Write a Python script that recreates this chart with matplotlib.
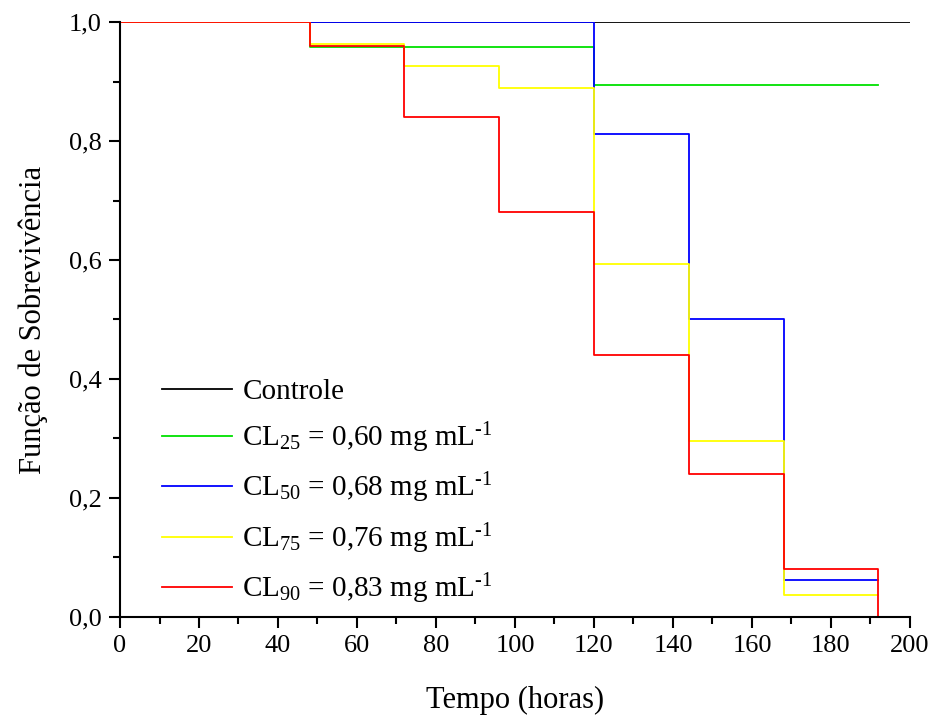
import numpy as np
import matplotlib.pyplot as plt
from matplotlib.ticker import MultipleLocator, FuncFormatter

plt.rcParams['font.family'] = ['Liberation Serif', 'DejaVu Serif']
plt.rcParams['mathtext.fontset'] = 'custom'
plt.rcParams['mathtext.rm'] = 'Liberation Serif'
plt.rcParams['mathtext.it'] = 'Liberation Serif:italic'

# survival curves (Kaplan-Meier style steps)
t_ctrl = [0, 200]
s_ctrl = [1.0, 1.0]
t_25 = [0, 48, 120, 192]
s_25 = [1.0, 0.958, 0.894, 0.894]
t_50 = [0, 120, 144, 168, 192]
s_50 = [1.0, 0.8125, 0.5, 0.0625, 0.0625]
t_75 = [0, 48, 72, 96, 120, 144, 168, 192]
s_75 = [1.0, 0.963, 0.926, 0.889, 0.593, 0.296, 0.037, 0.037]
t_90 = [0, 48, 72, 96, 120, 144, 168, 192, 192]
s_90 = [1.0, 0.96, 0.84, 0.68, 0.44, 0.24, 0.08, 0.08, 0.0]

labels = ['Controle',
          r'CL$_{25}$ = 0,60 mg mL$^{\text{-1}}$',
          r'CL$_{50}$ = 0,68 mg mL$^{\text{-1}}$',
          r'CL$_{75}$ = 0,76 mg mL$^{\text{-1}}$',
          r'CL$_{90}$ = 0,83 mg mL$^{\text{-1}}$']
colors = ['#000000', '#00e000', '#0000ff', '#ffff00', '#ff0000']

fig = plt.figure(figsize=(9.31, 7.2), dpi=100)
ax = fig.add_axes([0.1289, 0.1431, 0.8485, 0.8263])

series = [(t_ctrl, s_ctrl), (t_25, s_25), (t_50, s_50), (t_75, s_75), (t_90, s_90)]
for (t, s), c, lab in zip(series, colors, labels):
    ax.step(t, s, where='post', color=c, lw=1.3, label=lab)

ax.set_xlim(0, 200)
ax.set_ylim(0, 1.0)
ax.spines['top'].set_visible(False)
ax.spines['right'].set_visible(False)
for sp in ['left', 'bottom']:
    ax.spines[sp].set_linewidth(1.5)
ax.xaxis.set_major_locator(MultipleLocator(20))
ax.xaxis.set_minor_locator(MultipleLocator(10))
ax.yaxis.set_major_locator(MultipleLocator(0.2))
ax.yaxis.set_minor_locator(MultipleLocator(0.1))
ax.yaxis.set_major_formatter(FuncFormatter(lambda v, p: f'{v:.1f}'.replace('.', ',')))
ax.tick_params(which='major', direction='out', length=8, width=1.5, labelsize=19, pad=5)
ax.tick_params(which='minor', direction='out', length=5, width=1.5)
ax.set_xlabel('Tempo (horas)', fontsize=22, labelpad=21)
ax.set_ylabel('Função de Sobrevivência', fontsize=22, labelpad=15)

ax.legend(loc='upper left', bbox_to_anchor=(0.02, 0.445), frameon=False,
          fontsize=21, handlelength=2.4, handletextpad=0.35, labelspacing=0.54)

fig.savefig('out.png', dpi=100)
